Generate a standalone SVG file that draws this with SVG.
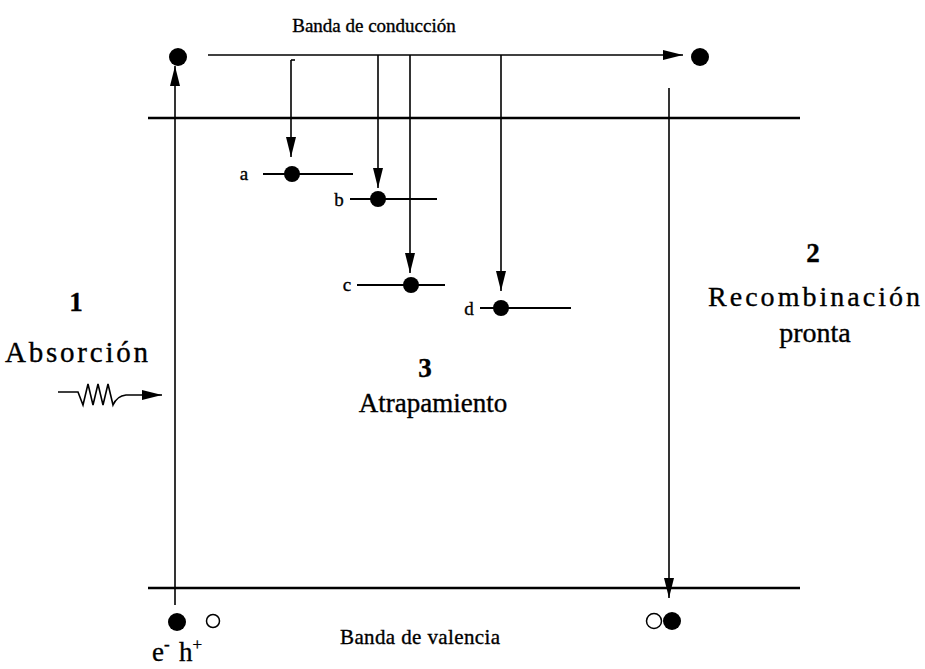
<svg xmlns="http://www.w3.org/2000/svg" width="925" height="669" viewBox="0 0 925 669">
<style>
text{font-family:"Liberation Serif",serif;fill:#000;stroke:#000;stroke-width:0.35}
.band{stroke:#000;stroke-width:2.5;fill:none}
.arr{stroke:#000;stroke-width:1.6;fill:none}
.lvl{stroke:#000;stroke-width:1.8;fill:none}
.e{fill:#000}
.h{fill:#fff;stroke:#000;stroke-width:1.5}
</style>
<defs>
<marker id="ahL" markerWidth="20" markerHeight="10" refX="20" refY="5" orient="auto" markerUnits="userSpaceOnUse">
<path d="M0,0 L20,5 L0,10 Z" fill="#000"/>
</marker>
</defs>
<g id="bands">
<line class="band" x1="148" y1="118" x2="800" y2="118"/>
<line class="band" x1="148" y1="588" x2="800" y2="588"/>
</g>
<g id="connectors">
<line class="arr" x1="208" y1="55" x2="683" y2="55" marker-end="url(#ahL)"/>
<line class="arr" x1="175" y1="605" x2="175" y2="66" marker-end="url(#ahL)"/>
<line class="arr" x1="669" y1="88" x2="669" y2="598" marker-end="url(#ahL)"/>
<line class="arr" x1="291" y1="60" x2="291" y2="157" marker-end="url(#ahL)"/>
<line class="arr" x1="291" y1="60" x2="295" y2="60"/>
<line class="arr" x1="378" y1="55" x2="378" y2="188" marker-end="url(#ahL)"/>
<line class="arr" x1="410" y1="55" x2="410" y2="273" marker-end="url(#ahL)"/>
<line class="arr" x1="501" y1="55" x2="501" y2="291" marker-end="url(#ahL)"/>
<path class="arr" d="M58,392 L78,392 L83,405 L88,384 L93,405 L98,384 L103,405 L108,384 L113,405 Q117,396 126,395 L162,395" marker-end="url(#ahL)"/>
</g>
<g id="level-a">
<line class="lvl" x1="263" y1="174" x2="353" y2="174"/>
<circle class="e" cx="292" cy="174" r="8"/>
<text x="244" y="180" font-size="19" text-anchor="middle">a</text>
</g>
<g id="level-b">
<line class="lvl" x1="350" y1="199" x2="437" y2="199"/>
<circle class="e" cx="378" cy="199" r="8"/>
<text x="339" y="206" font-size="19" text-anchor="middle">b</text>
</g>
<g id="level-c">
<line class="lvl" x1="357" y1="285" x2="445" y2="285"/>
<circle class="e" cx="411" cy="285" r="8"/>
<text x="347" y="291" font-size="19" text-anchor="middle">c</text>
</g>
<g id="level-d">
<line class="lvl" x1="480" y1="308" x2="571" y2="308"/>
<circle class="e" cx="501" cy="308" r="8"/>
<text x="469" y="315" font-size="19" text-anchor="middle">d</text>
</g>
<g id="electrons-top">
<circle class="e" cx="178" cy="57" r="9"/>
<circle class="e" cx="700" cy="57" r="9"/>
</g>
<g id="pair-left">
<circle class="e" cx="177" cy="622" r="9"/>
<circle class="h" cx="213" cy="621" r="6.5"/>
<text x="152" y="661" font-size="27">e<tspan dy="-11" font-size="17">-</tspan></text>
<text x="179" y="661" font-size="27">h<tspan dy="-11" font-size="17">+</tspan></text>
</g>
<g id="pair-right">
<circle class="h" cx="654" cy="621" r="7.5"/>
<circle class="e" cx="672" cy="621" r="9"/>
</g>
<g id="labels">
<text x="374" y="32" font-size="19" text-anchor="middle">Banda de conducción</text>
<text x="420" y="644" font-size="21" text-anchor="middle" textLength="160" lengthAdjust="spacing">Banda de valencia</text>
<text x="76" y="311" font-size="27" font-weight="bold" text-anchor="middle">1</text>
<text x="5" y="362" font-size="29" textLength="143" lengthAdjust="spacing">Absorción</text>
<text x="813" y="262" font-size="27" font-weight="bold" text-anchor="middle">2</text>
<text x="708" y="306" font-size="28" textLength="212" lengthAdjust="spacing">Recombinación</text>
<text x="815" y="342" font-size="28" text-anchor="middle">pronta</text>
<text x="425" y="377" font-size="27" font-weight="bold" text-anchor="middle">3</text>
<text x="433" y="412" font-size="27" text-anchor="middle">Atrapamiento</text>
</g>
</svg>
